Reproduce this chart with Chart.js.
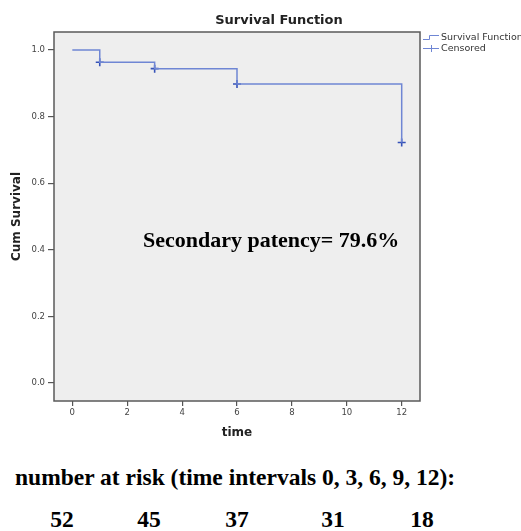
<!DOCTYPE html>
<html>
<head>
<meta charset="utf-8">
<script src="https://cdn.jsdelivr.net/npm/chart.js@4.4.1/dist/chart.umd.min.js"></script>
<style>
  html, body { margin: 0; padding: 0; background: #fff; }
  #wrap { position: relative; width: 521px; height: 531px; overflow: hidden; }
  #chart { position: absolute; left: 0; top: 0; }
  #title {
    position: absolute; left: 179px; top: 11px; width: 200px; text-align: center;
    font: bold 13px "DejaVu Sans", sans-serif; line-height: 18px; color: #222;
  }
  #note {
    position: absolute; left: 143px; top: 228px; white-space: nowrap;
    font: bold 22px "Liberation Serif", "Times New Roman", serif; line-height: 24px; color: #000;
  }
  #risk {
    position: absolute; left: 15px; top: 464px; white-space: nowrap;
    font: bold 23.5px "Liberation Serif", "Times New Roman", serif; line-height: 26px; color: #000;
  }
  .n {
    position: absolute; top: 506px; width: 60px; margin-left: -30px; text-align: center;
    font: bold 23.5px "Liberation Serif", "Times New Roman", serif; line-height: 26px; color: #000;
  }
</style>
</head>
<body>
<div id="wrap">
  <canvas id="chart" width="521" height="445"></canvas>
  <div id="title">Survival Function</div>
  <div id="note">Secondary patency= 79.6%</div>
  <div id="risk"></div>
</div>
<script>
// Kaplan-Meier curve
const times = [0, 1, 3, 6, 12];
const survival = [1.0, 0.963, 0.944, 0.898, 0.722];
const censoredTimes = [1, 3, 6, 12];
const censoredSurvival = [0.963, 0.944, 0.898, 0.722];

const xTicks = [0, 2, 4, 6, 8, 10, 12];
const yTicks = [0.0, 0.2, 0.4, 0.6, 0.8, 1.0];
const legendLabels = ['Survival Function', 'Censored'];

const riskTimes = [0, 3, 6, 9, 12];
const atRisk = [52, 45, 37, 31, 18];
const riskCenters = [62, 149, 237, 333, 422]; // layout only

const lineColor = '#6f86d4';
const markColor = '#3552b8';

// number at risk text below the chart
document.getElementById('risk').textContent =
  'number at risk (time intervals ' + riskTimes.join(', ') + '):';
atRisk.forEach((n, i) => {
  const d = document.createElement('div');
  d.className = 'n';
  d.style.left = riskCenters[i] + 'px';
  d.textContent = n;
  document.getElementById('wrap').appendChild(d);
});

const framePlugin = {
  id: 'frame',
  beforeDraw(chart){
    const {ctx, chartArea: a} = chart;
    ctx.save();
    ctx.fillStyle = '#eeeeee';
    ctx.fillRect(a.left, a.top, a.right - a.left, a.bottom - a.top);
    ctx.restore();
  },
  afterDraw(chart){
    const {ctx, chartArea: a} = chart;
    ctx.save();
    ctx.strokeStyle = '#5a5a5a';
    ctx.lineWidth = 1.5;
    ctx.strokeRect(a.left, a.top, a.right - a.left, a.bottom - a.top);

    // legend
    const lx = a.right + 3;
    ctx.lineWidth = 1;
    ctx.strokeStyle = lineColor;
    ctx.beginPath();
    ctx.moveTo(lx, 39.5); ctx.lineTo(lx + 6.5, 39.5); ctx.lineTo(lx + 6.5, 35.5); ctx.lineTo(lx + 16, 35.5);
    ctx.stroke();
    ctx.beginPath();
    ctx.moveTo(lx, 48.5); ctx.lineTo(lx + 16, 48.5);
    ctx.moveTo(lx + 8.5, 45); ctx.lineTo(lx + 8.5, 52);
    ctx.stroke();
    ctx.fillStyle = '#333';
    ctx.font = '9.5px "DejaVu Sans", sans-serif';
    ctx.textBaseline = 'middle';
    ctx.fillText(legendLabels[0], lx + 18, 37.5);
    ctx.fillText(legendLabels[1], lx + 18, 49);
    ctx.restore();
  }
};

new Chart(document.getElementById('chart'), {
  type: 'scatter',
  data: {
    datasets: [
      {
        label: legendLabels[0],
        data: times.map((t, i) => ({x: t, y: survival[i]})),
        showLine: true,
        stepped: 'before',
        borderColor: lineColor,
        borderWidth: 1.5,
        pointRadius: 0
      },
      {
        label: legendLabels[1],
        data: censoredTimes.map((t, i) => ({x: t, y: censoredSurvival[i]})),
        showLine: false,
        pointStyle: 'cross',
        pointRadius: 4,
        borderColor: markColor,
        borderWidth: 1.6
      }
    ]
  },
  options: {
    responsive: false,
    animation: false,
    layout: { padding: { left: 0, top: 32, right: 101, bottom: 0 } },
    plugins: { legend: { display: false }, tooltip: { enabled: false } },
    scales: {
      x: {
        type: 'linear',
        min: -0.667, max: 12.667,
        afterBuildTicks: s => { s.ticks = xTicks.map(v => ({value: v})); },
        afterFit: s => { s.height = 44; },
        grid: { display: true, drawOnChartArea: false, drawTicks: true, tickLength: 5, color: '#555', lineWidth: 1.2 },
        border: { display: false },
        ticks: { color: '#444', font: { family: 'DejaVu Sans', size: 8.5 }, padding: 2, maxRotation: 0 },
        title: { display: true, text: 'time', color: '#222', font: { family: 'DejaVu Sans', size: 12, weight: 'bold' }, padding: { top: 0, bottom: 5 } }
      },
      y: {
        type: 'linear',
        min: -0.054, max: 1.054,
        afterBuildTicks: s => { s.ticks = yTicks.map(v => ({value: v})); },
        afterFit: s => { s.width = 54; },
        grid: { display: true, drawOnChartArea: false, drawTicks: true, tickLength: 6, color: '#555', lineWidth: 1.2 },
        border: { display: false },
        ticks: { color: '#444', font: { family: 'DejaVu Sans', size: 8.5 }, padding: 3, callback: v => Number(v).toFixed(1) },
        title: { display: true, text: 'Cum Survival', color: '#222', font: { family: 'DejaVu Sans', size: 12, weight: 'bold' }, padding: { top: 10, bottom: 0 } }
      }
    }
  },
  plugins: [framePlugin]
});
</script>
</body>
</html>
